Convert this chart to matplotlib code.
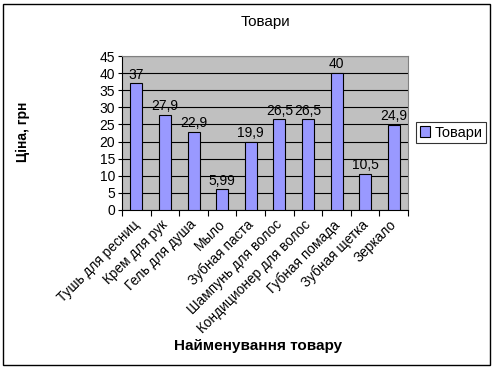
import matplotlib.pyplot as plt
import numpy as np

products = ["Тушь для ресниц", "Крем для рук", "Гель для душа", "Мыло", "Зубная паста",
            "Шампунь для волос", "Кондиционер для волос", "Губная помада", "Зубная щетка", "Зеркало"]
prices = [37, 27.9, 22.9, 5.99, 19.9, 26.5, 26.5, 40, 10.5, 24.9]
price_labels = ["37", "27,9", "22,9", "5,99", "19,9", "26,5", "26,5", "40", "10,5", "24,9"]
yticks = [0, 5, 10, 15, 20, 25, 30, 35, 40, 45]

plt.rcParams['font.family'] = ['Liberation Sans', 'DejaVu Sans']

fig = plt.figure(figsize=(4.94, 3.69), dpi=100)
# outer frame of the chart
fig.patches.append(plt.Rectangle((3/494, 4/369), 487/494, 361/369, transform=fig.transFigure,
                                 fill=False, edgecolor='black', linewidth=1))
ax = fig.add_axes([0.247, 0.431, 0.579, 0.417])
ax.set_facecolor('#C0C0C0')

x = np.arange(len(products))
bars = ax.bar(x, prices, width=0.42, color='#9999FF', edgecolor='black', linewidth=0.8,
              label='Товари', zorder=3)
for xi, v, lab in zip(x, prices, price_labels):
    ax.text(xi, v + 0.5, lab, ha='center', va='bottom', fontsize=10, zorder=4)

ax.set_xlim(-0.5, len(products) - 0.5)
ax.set_ylim(0, 45)
ax.set_yticks(yticks)
ax.yaxis.grid(True, color='black', linewidth=0.8, zorder=1)
ax.tick_params(axis='y', labelsize=10, length=3, pad=2)
ax.set_xticks(np.arange(len(products) + 1) - 0.5)
ax.set_xticklabels([])
ax.tick_params(axis='x', length=4, direction='out')
for xi, name in zip(x, products):
    ax.text(xi - 0.15, -2.2, name, rotation=45, ha='right', va='top', rotation_mode='anchor',
            fontsize=9.8, transform=ax.transData)
for side in ['top', 'right']:
    ax.spines[side].set_color('#808080')
ax.spines['left'].set_color('black')
ax.spines['bottom'].set_color('black')

fig.text(265/494, 1 - 22/369, 'Товари', ha='center', va='center', fontsize=11)
fig.text(23/494, 1 - 132/369, 'Ціна, грн', ha='center', va='center', rotation=90,
         fontsize=10, fontweight='bold')
fig.text(258/494, 1 - 346/369, 'Найменування товару', ha='center', va='center',
         fontsize=11, fontweight='bold')

leg = fig.legend(handles=[bars], labels=['Товари'], loc='center left',
                 bbox_to_anchor=(416/494, 1 - 132.5/369), fontsize=10.5, frameon=True,
                 fancybox=False, edgecolor='black', handlelength=0.7, handleheight=0.7,
                 handletextpad=0.3, borderpad=0.25, borderaxespad=0)
leg.get_frame().set_linewidth(0.8)

fig.savefig('out.png', dpi=100)
